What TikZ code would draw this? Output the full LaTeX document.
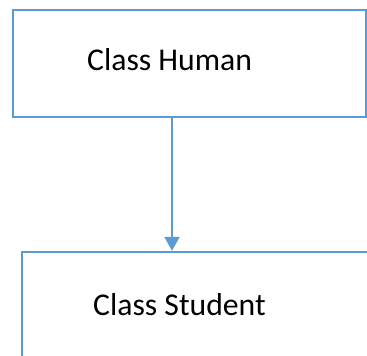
\documentclass[tikz,border=0pt]{standalone}
\usepackage{fontspec}
\setmainfont{Carlito}
\usetikzlibrary{arrows.meta}
\definecolor{officeblue}{HTML}{5B9BD5}
\tikzset{
  classbox/.style={draw=officeblue, line width=2.4pt, rectangle, inner sep=0pt},
  classlabel/.style={anchor=base west, inner sep=0pt, font=\fontsize{31.7}{38}\selectfont},
  link/.style={draw=officeblue, line width=2.4pt, -{Triangle[width=15pt,length=14pt]}}
}
\begin{document}
\begin{tikzpicture}[x=1pt,y=1pt]
\useasboundingbox (0,0) rectangle (367,-356);
\clip (0,0) rectangle (367,-356);
\node[classbox, minimum width=353pt, minimum height=107pt] (human) at (189.5,-63.5) {};
\node[classbox, minimum width=360pt, minimum height=120pt] (student) at (202,-312) {};
\node[classlabel] (humanlabel) at (87,-70) {Class Human};
\node[classlabel] (studentlabel) at (93,-315) {Class Student};
\draw[link] ([xshift=-17.5pt]human.south) -- ([xshift=-30pt]student.north);
\end{tikzpicture}
\end{document}
